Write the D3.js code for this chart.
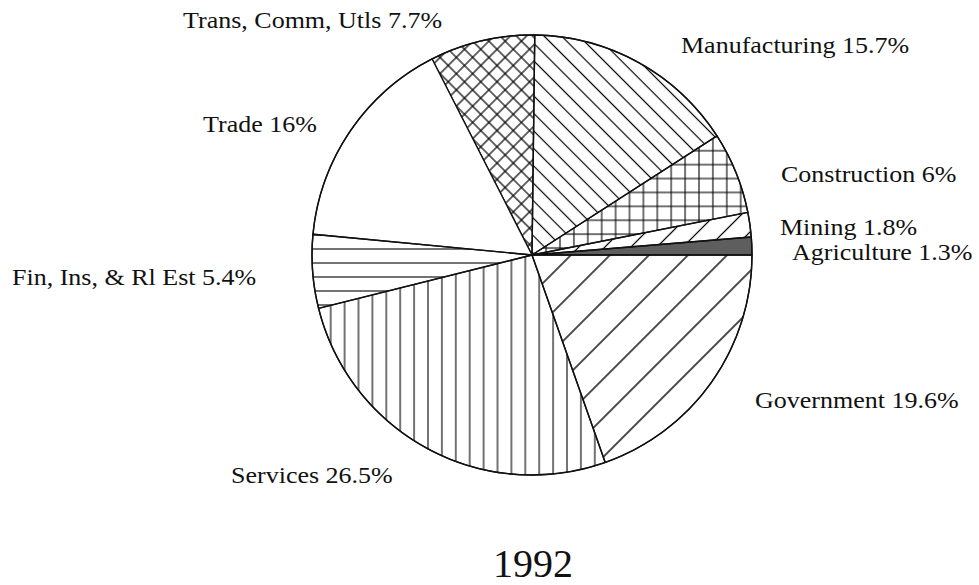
<!DOCTYPE html>
<html>
<head>
<meta charset="utf-8">
<script src="https://cdn.jsdelivr.net/npm/d3@7"></script>
<style>
  body { margin: 0; background: #fff; }
  text { font-family: "Liberation Serif", "Times New Roman", serif; fill: #111; }
</style>
</head>
<body>
<div id="chart"></div>
<script>
// shares of the economy, 1992, counter-clockwise from 3 o'clock
const sectors = ['Agriculture', 'Mining', 'Construction', 'Manufacturing', 'Trans, Comm, Utls', 'Trade', 'Fin, Ins, & Rl Est', 'Services', 'Government']
const shares = [1.3, 1.8, 6, 15.7, 7.7, 16, 5.4, 26.5, 19.6]
const year = '1992'

const width = 979, height = 585
const cx = 532, cy = 255, radius = 220

// label layout (left edge, baseline)
const labelXY = [[792, 260], [780, 235], [781, 182], [681, 53], [183, 28], [203, 132], [12, 285], [231, 483], [755, 408]]

const svg = d3.select('#chart').append('svg')
              .attr('width', width)
              .attr('height', height)

const defs = svg.append('defs')

// line hatch, lines pass through absolute point (x0, y0)
function hatch(id, spacing, angle, x0, y0, cross, sw) {
    const a = angle * Math.PI / 180
    const u = (x0 - cx) * Math.cos(a) + (y0 - cy) * Math.sin(a)
    const off = ((u - spacing / 2) % spacing + spacing) % spacing
    const p = defs.append('pattern')
                  .attr('id', id)
                  .attr('patternUnits', 'userSpaceOnUse')
                  .attr('width', spacing)
                  .attr('height', spacing)
                  .attr('x', off)
                  .attr('y', 0)
                  .attr('patternTransform', `rotate(${angle})`)
    p.append('line')
     .attr('x1', spacing / 2).attr('y1', -1)
     .attr('x2', spacing / 2).attr('y2', spacing + 1)
     .attr('stroke', '#000').attr('stroke-width', sw)
    if (cross) {
        p.append('line')
         .attr('x1', -1).attr('y1', spacing / 2)
         .attr('x2', spacing + 1).attr('y2', spacing / 2)
         .attr('stroke', '#000').attr('stroke-width', sw)
    }
}

hatch('mining', 18.4, 45, 700, 256, false, 1.2)
hatch('grid', 13.9, 0, 601.7, 206.7, true, 1.1)
hatch('manuf', 12.4, -45, 548, 40, false, 1.2)
hatch('trans', 11.5, 45, 470, 60, true, 1.2)
hatch('fin', 14, 90, 320, 235, false, 1.1)
hatch('serv', 13.9, 0, 330.7, 400, false, 1.1)
hatch('gov', 27.6, 45, 570, 256, false, 1.4)

const fills = ['#5e5e5e', 'url(#mining)', 'url(#grid)', 'url(#manuf)', 'url(#trans)', '#fff', 'url(#fin)', 'url(#serv)', 'url(#gov)']

const pie = d3.pie()
              .sort(null)
              .value(d => d)
              .startAngle(Math.PI / 2)
              .endAngle(Math.PI / 2 - 2 * Math.PI)
const arc = d3.arc().innerRadius(0).outerRadius(radius)

const g = svg.append('g').attr('transform', `translate(${cx},${cy})`)

g.selectAll('path')
 .data(pie(shares))
 .join('path')
 .attr('d', arc)
 .attr('fill', (d, i) => fills[i])
 .attr('stroke', '#111')
 .attr('stroke-width', 1.4)
 .attr('stroke-linejoin', 'round')

g.append('circle')
 .attr('r', radius)
 .attr('fill', 'none')
 .attr('stroke', '#111')
 .attr('stroke-width', 1.4)

// the original type is a bit wider than Times, stretch it
const stretch = 26 / 24

svg.selectAll('text.lab')
   .data(sectors)
   .join('text')
   .attr('class', 'lab')
   .attr('x', (d, i) => labelXY[i][0])
   .attr('y', (d, i) => labelXY[i][1])
   .style('font-size', '24px')
   .text((d, i) => d + ' ' + shares[i] + '%')
   .each(function () {
       const w = this.getComputedTextLength()
       d3.select(this).attr('textLength', w * stretch).attr('lengthAdjust', 'spacingAndGlyphs')
   })

svg.append('text')
   .attr('x', 533)
   .attr('y', 577)
   .attr('text-anchor', 'middle')
   .style('font-size', '40px')
   .text(year)
</script>
</body>
</html>
